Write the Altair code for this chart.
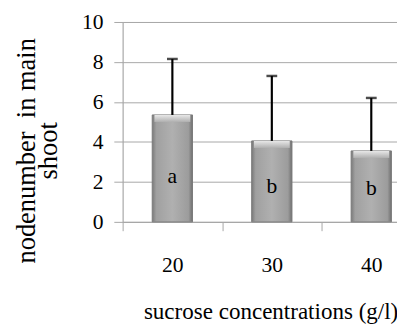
import altair as alt
import pandas as pd

concentrations = ["20", "30", "40"]
means = [5.35, 4.05, 3.55]
upper = [8.15, 7.3, 6.2]
letters = ["a", "b", "b"]
letter_y = [2.3, 1.8, 1.7]

df = pd.DataFrame({
    "conc": concentrations,
    "mean": means,
    "upper": upper,
    "letter": letters,
    "ly": letter_y,
})

SERIF = "Liberation Serif"
GRID = "#a6a6a6"

x_enc = alt.X(
    "conc:N",
    sort=concentrations,
    scale=alt.Scale(range=[0, 304.5], paddingInner=0, paddingOuter=0),
    axis=alt.Axis(
        title="sucrose concentrations (g/l)",
        titleFontSize=23.5,
        titleX=151, titleY=92, titleAlign="center", titleBaseline="middle",
        labelAngle=0, labelPadding=25, labelFont=SERIF,
        tickBand="extent", grid=False,
    ),
)

y_scale = alt.Scale(domain=[0, 10], nice=False)
y_axis = alt.Axis(
    title=["nodenumber\u00a0 in main", "shoot"],
    titleFontSize=27,
    titleAngle=270, titleX=-98, titleY=131, titleAlign="center", titleBaseline="middle",
    titleLineHeight=22,
    values=[0, 2, 4, 6, 8, 10],
    labelPadding=11, labelFont=SERIF,
    grid=True, gridColor=GRID, gridWidth=1,
)

base = alt.Chart(df)

bars = base.mark_bar(
    width=alt.RelativeBandSize(0.405),
    color=alt.Gradient(
        gradient="linear", x1=0, x2=1, y1=0, y2=0,
        stops=[
            alt.GradientStop(offset=0, color="#7a7a7a"),
            alt.GradientStop(offset=0.1, color="#a0a0a0"),
            alt.GradientStop(offset=0.5, color="#b0b0b0"),
            alt.GradientStop(offset=0.9, color="#9c9c9c"),
            alt.GradientStop(offset=1, color="#707070"),
        ],
    ),
    stroke="#7a7a7a", strokeWidth=1,
).encode(x=x_enc, y=alt.Y("mean:Q", scale=y_scale, axis=y_axis))

bevel = base.transform_calculate(bev="datum.mean - 0.35").mark_bar(
    width=alt.RelativeBandSize(0.36),
    color=alt.Gradient(
        gradient="linear", x1=0, x2=0, y1=0, y2=1,
        stops=[
            alt.GradientStop(offset=0, color="#e8e8e8"),
            alt.GradientStop(offset=1, color="#b0b0b0"),
        ],
    ),
).encode(x=alt.X("conc:N", sort=concentrations), y="mean:Q", y2="bev:Q")

err = base.mark_rule(color="black", strokeWidth=2.2).encode(
    x=alt.X("conc:N", sort=concentrations), y="mean:Q", y2="upper:Q"
)
caps = base.mark_tick(color="black", thickness=2.5, size=11, orient="horizontal").encode(
    x=alt.X("conc:N", sort=concentrations), y="upper:Q"
)
labels = base.mark_text(font=SERIF, fontSize=22, color="black").encode(
    x=alt.X("conc:N", sort=concentrations), y="ly:Q", text="letter:N"
)

chart = alt.layer(bars, bevel, err, caps, labels).properties(
    width=280, height=204,
    autosize=alt.AutoSizeParams(type="none"),
    padding={"left": 117, "top": 11, "right": 0, "bottom": 103},
).configure_view(stroke=None).configure(background="white", font=SERIF).configure_axis(
    labelFont=SERIF, labelFontSize=22, labelColor="black",
    titleFont=SERIF, titleFontSize=22, titleFontWeight="normal", titleColor="black",
    tickSize=9, tickColor=GRID, tickWidth=1,
    domainColor=GRID, domainWidth=1,
)

chart.save("out.html", embed_options={"renderer": "svg", "actions": False})
